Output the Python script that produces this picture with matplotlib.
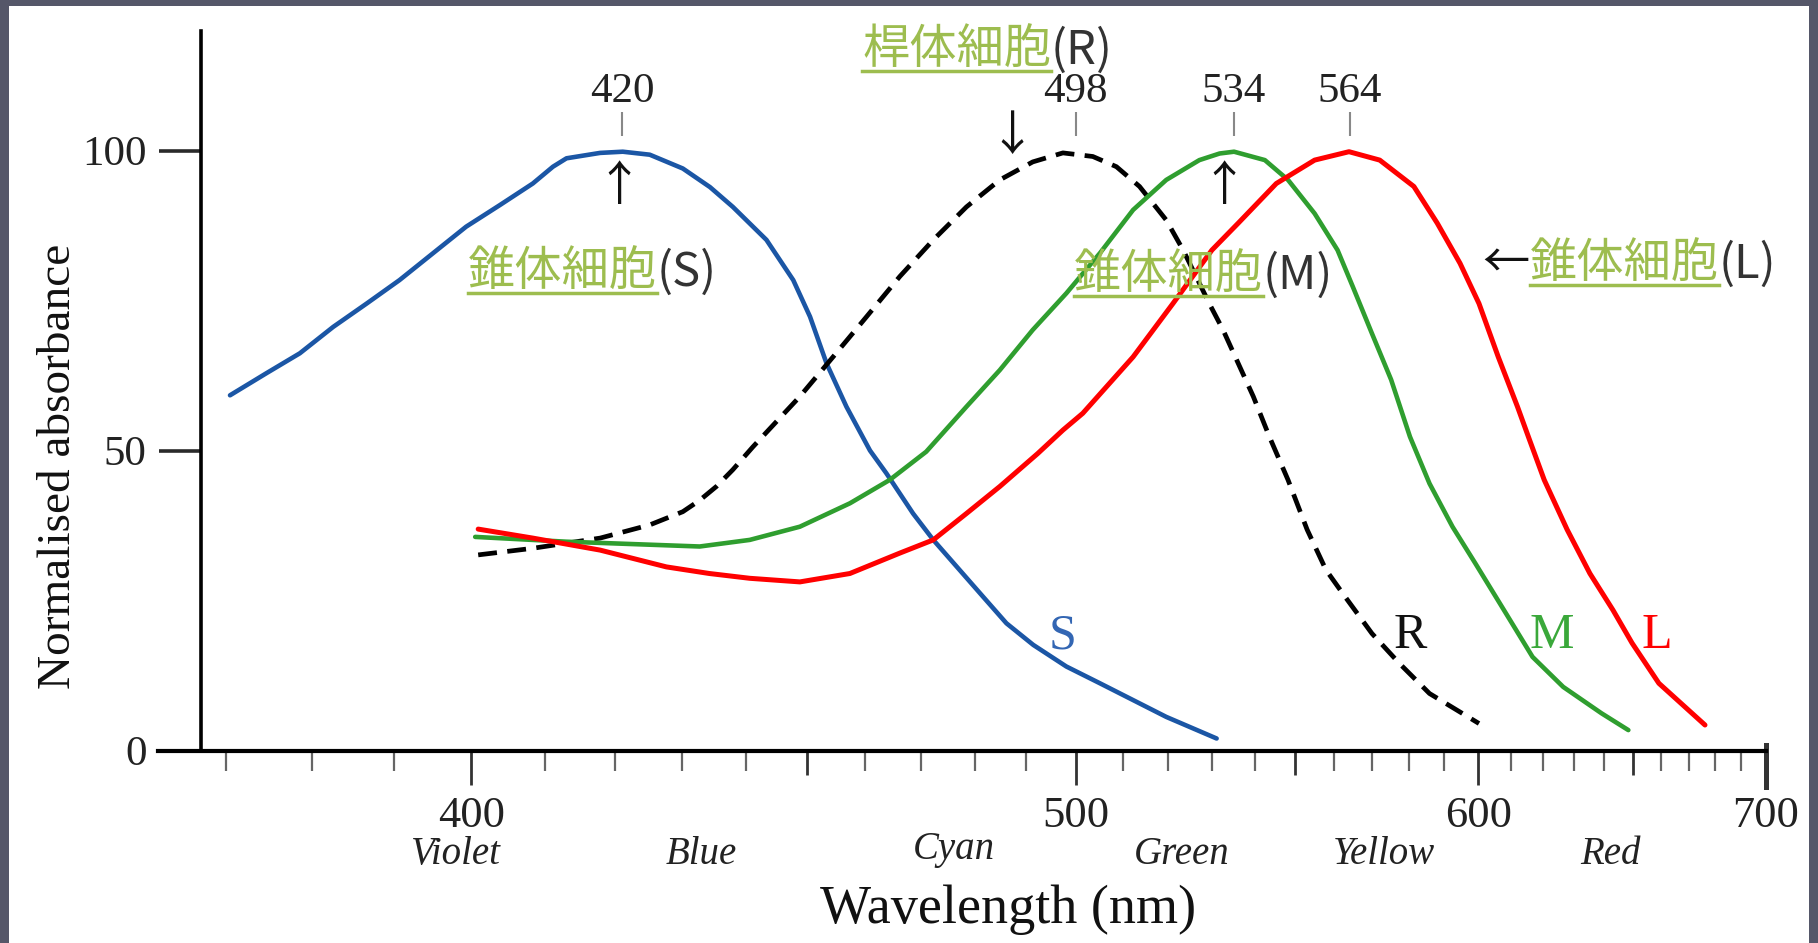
import numpy as np
import matplotlib
matplotlib.use('Agg')
import matplotlib.pyplot as plt
from matplotlib.patches import Rectangle
from matplotlib.lines import Line2D

W, H = 1818, 943

# absorbance curves (wavelength nm, normalised absorbance)
s_wl = [370.4, 374.6, 378.5, 382.5, 386.6, 390.7, 395.0, 399.3, 403.8, 408.3, 411.1, 413.0,
        417.8, 421.1, 425.1, 430.1, 434.3, 437.9, 443.3, 447.7, 450.5, 453.3, 456.7, 460.8,
        463.7, 468.5, 472.2, 477.1, 481.6, 486.1, 491.4, 498.1, 505.1, 512.2, 519.5, 531.0]
s_val = [59.2, 62.9, 66.2, 70.6, 74.5, 78.4, 82.9, 87.3, 90.9, 94.5, 97.3, 98.7,
         99.6, 99.8, 99.3, 97.0, 93.9, 90.6, 85.1, 78.4, 72.3, 64.5, 57.3, 50.0,
         46.2, 39.5, 35.1, 30.1, 25.6, 21.2, 17.6, 14.0, 11.2, 8.4, 5.6, 2.0]

r_wl = [400.9, 408.3, 417.8, 425.1, 430.1, 432.7, 435.3, 437.9, 441.1, 448.8, 454.4, 460.2,
        466.1, 472.2, 478.4, 484.8, 491.3, 497.4, 503.6, 508.6, 513.6, 519.5, 523.3, 529.5,
        532.5, 536.1, 539.7, 543.6, 548.2, 553.0, 557.8, 562.8, 569.9, 577.4, 585.8, 600.2]
r_val = [32.6, 33.7, 35.4, 37.6, 39.8, 41.7, 44.0, 46.8, 50.6, 59.0, 65.6, 72.3,
         79.0, 85.1, 90.6, 95.1, 98.1, 99.6, 99.0, 97.3, 94.0, 88.4, 83.4, 74.2,
         70.1, 64.5, 59.0, 52.3, 45.1, 36.8, 30.1, 25.6, 19.5, 14.5, 9.5, 4.5]

m_wl = [400.5, 413.0, 425.1, 432.7, 440.6, 448.8, 457.3, 464.3, 470.9, 478.4, 484.8, 491.3,
        498.1, 505.1, 512.2, 519.5, 527.0, 531.7, 535.1, 542.5, 548.2, 554.9, 560.8, 564.8,
        569.9, 575.1, 580.3, 585.8, 592.4, 599.1, 608.3, 616.6, 626.4, 639.1, 648.3]
m_val = [35.6, 34.8, 34.3, 34.0, 35.1, 37.3, 41.2, 45.1, 49.8, 57.3, 63.4, 70.1,
         76.2, 82.9, 90.1, 95.1, 98.4, 99.5, 99.8, 98.4, 95.1, 89.5, 83.4, 77.3,
         69.5, 61.8, 52.3, 44.5, 37.3, 31.2, 22.9, 15.6, 10.6, 6.2, 3.4]

l_wl = [400.9, 408.3, 417.8, 427.6, 434.2, 440.6, 448.8, 457.3, 466.1, 472.2, 478.4, 484.8,
        492.3, 497.4, 501.5, 512.2, 521.0, 529.9, 536.1, 545.3, 554.9, 563.8, 572.0, 581.4,
        588.0, 594.6, 600.2, 606.0, 611.9, 615.5, 620.3, 627.7, 635.2, 643.0, 649.6, 659.1, 676.1]
l_val = [36.9, 35.4, 33.4, 30.6, 29.5, 28.7, 28.1, 29.5, 32.9, 35.1, 39.5, 44.0,
         49.5, 53.4, 56.2, 65.6, 74.5, 83.4, 87.9, 94.5, 98.4, 99.8, 98.4, 94.0,
         87.9, 81.2, 74.5, 65.6, 57.3, 52.0, 45.1, 36.8, 29.5, 23.4, 17.9, 11.2, 4.25]

peak_pos = [421, 500, 535, 564]
peak_txt = ['420', '498', '534', '564']
curve_names = ['S', 'R', 'M', 'L']
curve_label_wl = [497.4, 580.4, 622.7, 658.4]
band_names = ['Violet', 'Blue', 'Cyan', 'Green', 'Yellow', 'Red']
band_wl = [398, 433, 476, 523, 573, 642]

blue, green_c, red = '#1b56a5', '#2f9e2f', '#ff0000'
cjk_green = '#9dbd4f'
jp = ['Noto Sans CJK JP', 'DejaVu Sans']


def px(x, y):
    # pixel position (from top-left) -> figure fraction
    return x / W, 1 - y / H


def fwd(x):
    x = np.asarray(x, dtype=float)
    with np.errstate(divide='ignore', invalid='ignore'):
        return -1000.0 / x


def inv(y):
    y = np.asarray(y, dtype=float)
    with np.errstate(divide='ignore', invalid='ignore'):
        return -1000.0 / y


plt.rcParams['font.family'] = ['Liberation Serif', 'DejaVu Serif']

fig = plt.figure(figsize=(W / 100, H / 100), dpi=100, facecolor='#555769')
fig.patches.append(Rectangle((9 / W, 0), 1800 / W, (H - 6) / H, transform=fig.transFigure,
                             facecolor='white', edgecolor='none', zorder=-5))

ax = fig.add_axes([158 / W, 192.5 / H, 1608 / W, 720 / H])
ax.patch.set_visible(False)
ax.set_xscale('function', functions=(fwd, inv))
ax.set_xlim(362.4, 700)
ax.set_ylim(0, 120)

kw = dict(solid_joinstyle='round', solid_capstyle='round', clip_on=False)
ax.plot(s_wl, s_val, color=blue, lw=3.3, **kw)
ax.plot(r_wl, r_val, color='black', lw=3.4, dashes=(4, 2.2), dash_joinstyle='round', clip_on=False)
ax.plot(m_wl, m_val, color=green_c, lw=3.3, **kw)
ax.plot(l_wl, l_val, color=red, lw=3.6, **kw)

# spines
ax.spines['top'].set_visible(False)
ax.spines['left'].set_position(('data', 367.1))
ax.spines['left'].set_linewidth(2.6)
ax.spines['bottom'].set_linewidth(3)
ax.spines['right'].set_bounds(-6, 1)
ax.spines['right'].set_linewidth(3.6)
ax.spines['right'].set_color('#333')

ax.set_yticks([0, 50, 100])
ax.tick_params(axis='y', direction='out', length=30, width=2.6, color='#2a2a2a',
               pad=9, labelsize=31, labelcolor='#222')

major = [400, 450, 500, 550, 600, 650, 700]
ax.set_xticks(major)
ax.set_xticklabels(['400', '', '500', '', '600', '', '700'])
ax.set_xticks([w for w in range(370, 700, 10) if w % 50], minor=True)
ax.tick_params(axis='x', which='major', direction='out', length=24.5, width=2.0, color='#333',
               pad=8, labelsize=32, labelcolor='#222')
ax.tick_params(axis='x', which='minor', direction='out', length=14.4, width=1.6, color='#666')
for t in ax.xaxis.get_major_ticks():
    if t.get_loc() % 100 == 50:
        t.tick1line.set_markersize(17.3)

# peak marks on top
ax.vlines(peak_pos, 102.4, 106.4, color='#888', lw=1.5, clip_on=False)
for p, t in zip(peak_pos, peak_txt):
    ax.text(p, 108.1, t, ha='center', va='baseline', fontsize=31, color='#222')

# curve letters
for name, w, c in zip(curve_names, curve_label_wl, ['#3366b3', '#111', '#3aa83a', red]):
    ax.text(w, 17.0, name, ha='center', va='baseline', fontsize=36, color=c)

# colour band names
for name, w in zip(band_names, band_wl):
    yy = -0.151 if name == 'Cyan' else -0.158
    ax.text(w, yy, name, transform=ax.get_xaxis_transform(), ha='center', va='baseline',
            fontsize=28, style='italic', color='#222')

fig.text(*px(70.5, 466), 'Normalised absorbance', rotation=90, rotation_mode='anchor',
         ha='center', va='baseline', fontsize=34, color='#111')
fig.text(*px(1008, 923), 'Wavelength (nm)', ha='center', va='baseline', fontsize=39, color='#111')

# japanese annotations
renderer = fig.canvas.get_renderer()


def cell_label(x, base, name, tag, arrow=False):
    t = fig.text(*px(x, base), name, family=jp, fontsize=34, color=cjk_green,
                 ha='left', va='baseline')
    bb = t.get_window_extent(renderer)
    fig.add_artist(Line2D([bb.x0 / W, bb.x1 / W], [1 - (base + 7) / H] * 2,
                          transform=fig.transFigure, color=cjk_green, lw=2.5))
    fig.text(bb.x1 / W, 1 - base / H, tag, family=jp, fontsize=34, color='#333',
             ha='left', va='baseline')
    if arrow:
        fig.text(bb.x0 / W, 1 - base / H, '←', family=jp, fontsize=34, color='#111',
                 ha='right', va='baseline')


cell_label(468, 286, '錐体細胞', '(S)')
cell_label(1074, 289, '錐体細胞', '(M)')
cell_label(1530, 278, '錐体細胞', '(L)', arrow=True)
cell_label(862, 64, '桿体細胞', '(R)')

fig.text(*px(619, 200), '↑', family=jp, fontsize=34, color='#111', ha='center', va='baseline')
fig.text(*px(1012, 150), '↓', family=jp, fontsize=34, color='#111', ha='center', va='baseline')
fig.text(*px(1224, 200), '↑', family=jp, fontsize=34, color='#111', ha='center', va='baseline')

fig.savefig('out.png', dpi=100, facecolor=fig.get_facecolor())
